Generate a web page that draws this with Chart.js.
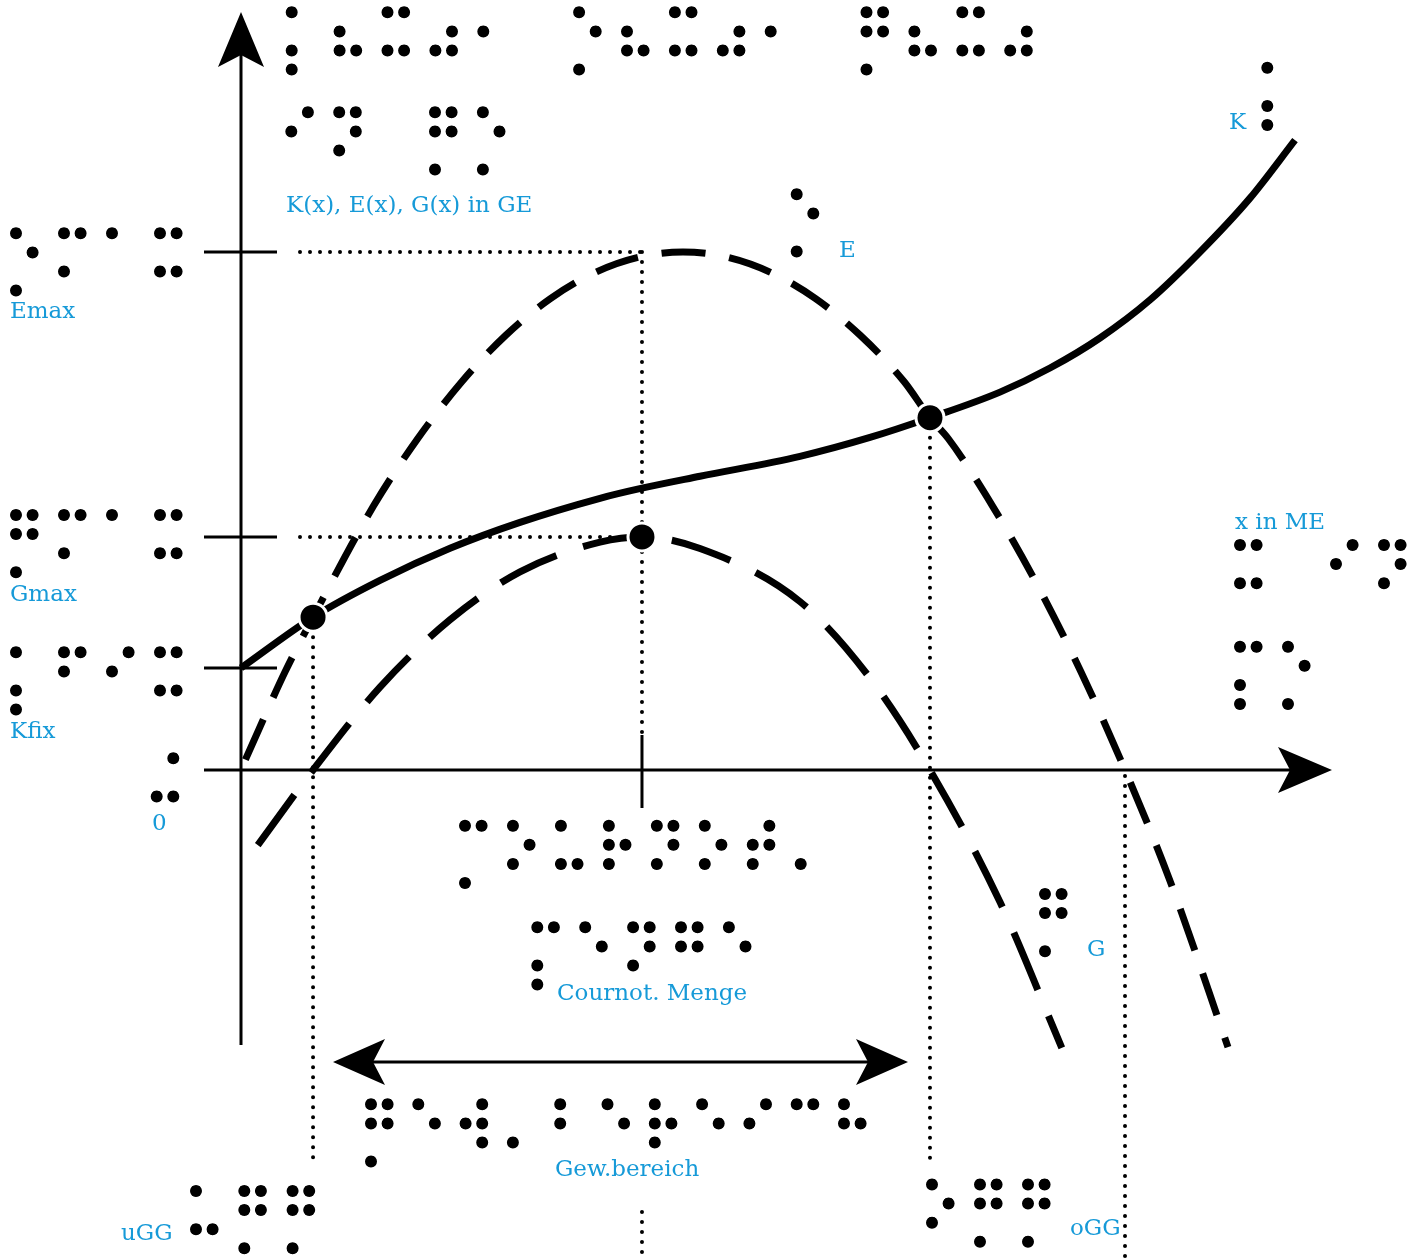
<!DOCTYPE html>
<html><head><meta charset="utf-8">
<script src="https://cdn.jsdelivr.net/npm/chart.js@4/dist/chart.umd.min.js"></script>
<style>html,body{margin:0;padding:0;background:#fff;overflow:hidden}</style>
</head><body>
<canvas id="c" width="1419" height="1258"></canvas>
<script>
// ---------------- DATA (x in ME, y in GE) ----------------
const kX = [0, 1.63, 3.145, 4.729, 6.312, 8.122, 9.072, 10.385, 12.647, 14.231, 15.588, 17.172, 18.303, 19.434, 20.566, 21.697, 22.828, 23.846];
const kY = [3.94, 5.9, 7.32, 8.56, 9.56, 10.49, 10.88, 11.34, 12.11, 12.84, 13.6, 14.59, 15.52, 16.68, 18.15, 20.0, 22.08, 24.32];
const eX = [0.1, 1, 1.63, 3, 4, 5, 6, 7, 8, 9, 10, 11, 12, 13, 14, 15, 15.588, 16, 17, 18, 19, 20, 21, 22.33];
const eY = [0.4, 3.8, 5.9, 10.2, 12.8, 15, 16.8, 18.2, 19.2, 19.8, 20, 19.8, 19.2, 18.2, 16.8, 15, 13.6, 12.8, 10.2, 7.2, 3.8, 0, -4.2, -10.7];
const gX = [0.38, 1.63, 3.145, 4.729, 6.312, 8.122, 9.072, 10.385, 12.647, 14.231, 15.588, 17.172, 18.57];
const gY = [-2.9, 0, 3.2, 5.8, 7.65, 8.8, 9.0, 8.55, 6.5, 3.55, 0, -5.1, -10.73];
const markX = [1.63, 9.072, 15.588];     // uGG, Cournot, oGG
const markY = [5.9, 9.0, 13.6];
const uGG = 1.63, cournotX = 9.072, oGG = 15.588, eZero = 20;
const eMax = 20, gMax = 9.0, kFix = 3.94;

// text labels
const labelTexts = ["K(x), E(x), G(x) in GE", "Emax", "Gmax", "Kfix", "0", "E", "K", "x in ME", "Cournot. Menge", "G", "Gew.bereich", "uGG", "oGG"];
// braille (German 8-dot computer braille)
const brailleTexts = [
  "\u2845\u2826\u282D\u2834\u2802\u2800\u2851\u2826\u282D\u2834\u2802\u2800\u285B\u2826\u282D\u2834", // K(x), E(x), G(x)
  "\u280A\u281D\u2800\u285B\u2851",        // in GE
  "\u2851\u280D\u2801\u282D",              // Emax
  "\u285B\u280D\u2801\u282D",              // Gmax
  "\u2845\u280B\u280A\u282D",              // Kfix
  "\u282C",                                // 0
  "\u2851",                                // E
  "\u2845",                                // K
  "\u282D\u2800\u280A\u281D",              // x in
  "\u284D\u2851",                          // ME
  "\u2849\u2815\u2825\u2817\u281D\u2815\u281E\u2804", // Cournot.
  "\u284D\u2811\u281D\u281B\u2811",        // Menge
  "\u285B",                                // G
  "\u285B\u2811\u283A\u2804\u2803\u2811\u2817\u2811\u280A\u2809\u2813", // Gew.bereich
  "\u2825\u285B\u285B",                    // uGG
  "\u2815\u285B\u285B"                     // oGG
];

// ---------------- LAYOUT (pixels) ----------------
const W = 1419, H = 1258, OX = 241, OY = 770, PX = 44.2, PY = 25.9;
const X_MIN = -OX / PX, X_MAX = (W - OX) / PX, Y_MAX = OY / PY, Y_MIN = -(H - OY) / PY;
const labelPos = [[286,212],[10,318],[10,601],[10,738],[152,830],[839,257],[1229,129],[1235,529],[557,1000],[1087,956],[555,1176],[121,1240],[1070,1235]];
const braillePos = [[291.7,12.3,47.9],[291.3,112.3,47.9],[16,233.3,48],[16,515,48],[16,652.3,48],[156.7,758.3,48],[796.7,194.3,48],[1267.3,67.7,48],[1240,545,48],[1240,646.7,48],[465,825.7,47.96],[537.3,927.3,47.9],[1045,894,48],[371,1104.3,47.3],[196,1191,48.3],[932,1184.5,48]];
const DOT_DX = 16.6, DOT_DY = 19.1, DOT_D = 12;
const BLUE = '#169ad8';

const px2x = p => (p - OX) / PX, px2y = p => (OY - p) / PY;
const xy = (xs, ys) => xs.map((x, i) => ({x, y: ys[i]}));
const seg = (x1, y1, x2, y2) => [{x: x1, y: y1}, {x: x2, y: y2}];

const solid = (data, w, order) => ({type:'line', data, borderColor:'#000', borderWidth:w, pointRadius:0, fill:false, tension:0, borderCapStyle:'butt', order});
const dotted = (data) => ({type:'line', data, borderColor:'#000', borderWidth:4, borderDash:[0, 10], borderCapStyle:'round', pointRadius:0, fill:false, tension:0, order:20});

const datasets = [
  {type:'scatter', data: xy(markX, markY), pointRadius:14, pointHoverRadius:14, backgroundColor:'#000', borderColor:'#fff', borderWidth:3, order:0},
  {type:'line', data: xy(kX, kY), borderColor:'#000', borderWidth:7, pointRadius:0, fill:false, cubicInterpolationMode:'monotone', borderCapStyle:'butt', order:2},
  {type:'line', data: xy(eX, eY), borderColor:'#000', borderWidth:7, borderDash:[44, 24], pointRadius:0, fill:false, cubicInterpolationMode:'monotone', borderCapStyle:'butt', order:3},
  {type:'line', data: xy(gX, gY), borderColor:'#000', borderWidth:7, borderDash:[62, 28], pointRadius:0, fill:false, cubicInterpolationMode:'monotone', borderCapStyle:'butt', order:4},
  // axes
  solid(seg(px2x(204), 0, px2x(1292), 0), 3, 10),
  solid(seg(0, px2y(1045), 0, px2y(52)), 3, 10),
  // ticks
  solid(seg(px2x(204), eMax, px2x(277), eMax), 3, 10),
  solid(seg(px2x(204), gMax, px2x(277), gMax), 3, 10),
  solid(seg(px2x(204), kFix, px2x(277), kFix), 3, 10),
  solid(seg(cournotX, px2y(735), cournotX, px2y(808)), 3, 10),
  // Gewinnbereich arrow shaft
  solid(seg(px2x(370), px2y(1062), px2x(870), px2y(1062)), 3, 10),
  // dotted guides
  dotted(seg(px2x(300), eMax, cournotX, eMax)),
  dotted(seg(px2x(300), gMax, px2x(622), gMax)),
  dotted(seg(cournotX, eMax, cournotX, px2y(735))),
  dotted(seg(cournotX, px2y(1212), cournotX, Y_MIN)),
  dotted(seg(uGG, 5.9, uGG, px2y(1165))),
  dotted(seg(oGG, 13.6, oGG, px2y(1165))),
  dotted(seg(eZero, px2y(776), eZero, Y_MIN))
];

function arrowHead(ctx, tx, ty, ux, uy, len, half, notch){
  const nx = -uy, ny = ux;
  ctx.beginPath();
  ctx.moveTo(tx, ty);
  ctx.lineTo(tx - ux*len + nx*half, ty - uy*len + ny*half);
  ctx.lineTo(tx - ux*(len-notch), ty - uy*(len-notch));
  ctx.lineTo(tx - ux*len - nx*half, ty - uy*len - ny*half);
  ctx.closePath();
  ctx.fill();
}

function drawBraille(ctx, str, x0, y0, pitch){
  ctx.save();
  ctx.font = '200px "DejaVu Sans"';
  ctx.textBaseline = 'alphabetic';
  ctx.textAlign = 'left';
  const a = ctx.measureText('\u2801'), b = ctx.measureText('\u2880');
  const c1x = (a.actualBoundingBoxRight - a.actualBoundingBoxLeft)/2;
  const c1y = (a.actualBoundingBoxDescent - a.actualBoundingBoxAscent)/2;
  const c8x = (b.actualBoundingBoxRight - b.actualBoundingBoxLeft)/2;
  const c8y = (b.actualBoundingBoxDescent - b.actualBoundingBoxAscent)/2;
  const d = a.actualBoundingBoxRight + a.actualBoundingBoxLeft;
  const sx = DOT_DX / (c8x - c1x), sy = 3*DOT_DY / (c8y - c1y);
  const s = Math.min(sx, sy);
  const extra = 15 / s - d;   // enlarge glyph dots so the round clip is filled
  ctx.fillStyle = '#000'; ctx.strokeStyle = '#000';
  ctx.lineJoin = 'round';
  [...str].forEach((ch, i) => {
    const cx = x0 + i*pitch;
    ctx.save();
    ctx.setTransform(1, 0, 0, 1, 0, 0);
    ctx.beginPath();
    for (let r = 0; r < 4; r++) for (let c = 0; c < 2; c++) {
      const dx = cx + c*DOT_DX, dy = y0 + r*DOT_DY;
      ctx.moveTo(dx + DOT_D/2, dy);
      ctx.arc(dx, dy, DOT_D/2, 0, Math.PI*2);
    }
    ctx.clip();
    ctx.setTransform(sx, 0, 0, sy, cx - c1x*sx, y0 - c1y*sy);
    ctx.fillText(ch, 0, 0);
    if (extra > 0) { ctx.lineWidth = extra; ctx.strokeText(ch, 0, 0); }
    ctx.restore();
  });
  ctx.restore();
}

const overlay = {
  id: 'overlay',
  beforeDraw(chart){
    const ctx = chart.ctx; ctx.save(); ctx.fillStyle = '#fff'; ctx.fillRect(0,0,chart.width,chart.height); ctx.restore();
  },
  afterDatasetsDraw(chart){
    const ctx = chart.ctx, xs = chart.scales.x, ys = chart.scales.y;
    ctx.save();
    ctx.fillStyle = '#000';
    const X = v => xs.getPixelForValue(v), Y = v => ys.getPixelForValue(v);
    arrowHead(ctx, X(px2x(1332)), Y(0), 1, 0, 54, 23, 12);          // x axis
    arrowHead(ctx, X(0), Y(px2y(12)), 0, -1, 55, 23, 12);           // y axis
    const gy = Y(px2y(1062));
    arrowHead(ctx, X(px2x(333)), gy, -1, 0, 52, 23, 12);            // Gewinnbereich
    arrowHead(ctx, X(px2x(908)), gy, 1, 0, 52, 23, 12);
    ctx.restore();
    brailleTexts.forEach((t, i) => drawBraille(ctx, t, braillePos[i][0], braillePos[i][1], braillePos[i][2]));
    ctx.save();
    ctx.font = '23px "DejaVu Serif"';
    ctx.fillStyle = BLUE;
    ctx.textBaseline = 'alphabetic';
    labelTexts.forEach((t, i) => ctx.fillText(t, labelPos[i][0], labelPos[i][1]));
    ctx.restore();
  }
};

new Chart(document.getElementById('c'), {
  data: { datasets },
  options: {
    responsive: false, animation: false, devicePixelRatio: 1,
    layout: { padding: 0, autoPadding: false },
    parsing: false,
    plugins: { legend: { display: false }, tooltip: { enabled: false } },
    scales: {
      x: { type: 'linear', min: X_MIN, max: X_MAX, display: false },
      y: { type: 'linear', min: Y_MIN, max: Y_MAX, display: false }
    }
  },
  plugins: [overlay]
});
</script>
</body></html>
